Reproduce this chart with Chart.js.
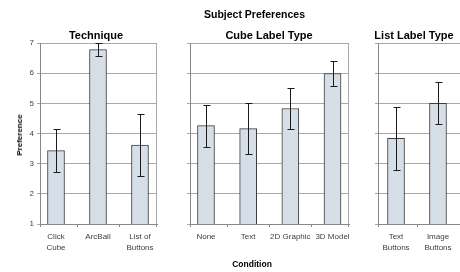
<!DOCTYPE html>
<html><head><meta charset="utf-8">
<script src="https://cdn.jsdelivr.net/npm/chart.js@4"></script>
<style>
html,body{margin:0;padding:0;background:#fff;}
#wrap{position:relative;width:460px;height:272px;overflow:hidden;font-family:"Liberation Sans",Arial,sans-serif;color:#000;}
#wrap canvas{position:absolute;left:0;top:0;}
.t{position:absolute;transform:translate(-50%,-50%);white-space:nowrap;font-weight:bold;line-height:1;}
</style></head>
<body>
<div id="wrap">
<canvas id="c1" width="463" height="272" style="width:463px;height:272px"></canvas>
<canvas id="c2" width="463" height="272" style="width:463px;height:272px"></canvas>
<canvas id="c3" width="463" height="272" style="width:463px;height:272px"></canvas>
<div class="t" style="left:254.5px;top:14px;font-size:10.5px">Subject Preferences</div>
<div class="t" style="left:96px;top:35px;font-size:11px">Technique</div>
<div class="t" style="left:269px;top:35px;font-size:11px">Cube Label Type</div>
<div class="t" style="left:414px;top:35px;font-size:11px">List Label Type</div>
<div class="t" style="left:20px;top:135px;font-size:8px;transform:translate(-50%,-50%) rotate(-90deg)">Preference</div>
<div class="t" style="left:252px;top:264px;font-size:8.5px">Condition</div>
</div>
<script>
const techCats = [['Click','Cube'], 'ArcBall', ['List of','Buttons']];
const techMeans = [3.43, 6.78, 3.62];
const techErr = [0.72, 0.22, 1.02];

const cubeCats = ['None', 'Text', '2D Graphic', '3D Model'];
const cubeMeans = [4.26, 4.16, 4.83, 5.99];
const cubeErr = [0.70, 0.85, 0.67, 0.42];

const listCats = [['Text','Buttons'], ['Image','Buttons']];
const listMeans = [3.84, 5.00];
const listErr = [1.05, 0.70];

const yTicks = [1, 2, 3, 4, 5, 6, 7];

const FONT = '"Liberation Sans", Arial, sans-serif';

const errorBars = {
  id: 'errorBars',
  afterDatasetsDraw(chart) {
    const ctx = chart.ctx;
    const ys = chart.scales.y;
    const errs = chart.options.plugins.errorBars.errors;
    const meta = chart.getDatasetMeta(0);
    const vals = chart.data.datasets[0].data.map(d => d.y);
    ctx.save();
    ctx.strokeStyle = '#1a1a1a';
    ctx.lineWidth = 1;
    meta.data.forEach((bar, i) => {
      const x = Math.round(bar.x) + 0.5;
      const top = Math.round(ys.getPixelForValue(vals[i] + errs[i])) + 0.5;
      const bot = Math.round(ys.getPixelForValue(vals[i] - errs[i])) + 0.5;
      ctx.beginPath();
      ctx.moveTo(x, top); ctx.lineTo(x, bot);
      ctx.moveTo(x - 3, top); ctx.lineTo(x + 4, top);
      ctx.moveTo(x - 3, bot); ctx.lineTo(x + 4, bot);
      ctx.stroke();
    });
    ctx.restore();
  }
};

const frame = {
  id: 'frame',
  beforeDatasetsDraw(chart) {
    const a = chart.chartArea;
    const xs = chart.scales.x;
    const n = chart.data.datasets[0].data.length;
    const ctx = chart.ctx;
    ctx.save();
    ctx.lineWidth = 1;
    ctx.strokeStyle = '#a8a8a8';
    ctx.beginPath();
    const rx = Math.round(a.right) - 0.5;
    ctx.moveTo(rx, a.top); ctx.lineTo(rx, a.bottom);
    ctx.stroke();
    // category boundary tick marks below the axis
    ctx.strokeStyle = '#888';
    ctx.beginPath();
    const bx = [a.left + 0.5];
    for (let i = 0; i < n - 1; i++) bx.push(Math.round(xs.getPixelForValue(i + 0.5)) + 0.5);
    bx.push(rx);
    const yb = Math.round(a.bottom);
    bx.forEach(x => { ctx.moveTo(x, yb); ctx.lineTo(x, yb + 3); });
    ctx.stroke();
    ctx.restore();
  }
};

function makeChart(id, cats, means, errs, left, right, xmin, xmax, showY) {
  new Chart(document.getElementById(id), {
    type: 'bar',
    data: {
      datasets: [{
        data: means.map((v, i) => ({ x: i, y: v })),
        backgroundColor: '#d6dee8',
        borderColor: '#3c3c3c',
        borderWidth: 1,
        barThickness: 17
      }]
    },
    options: {
      responsive: false,
      animation: false,
      events: [],
      layout: { padding: { left: left, right: right, top: 43, bottom: 0 } },
      plugins: {
        legend: { display: false },
        tooltip: { enabled: false },
        title: { display: false },
        errorBars: { errors: errs }
      },
      scales: {
        x: {
          type: 'linear',
          min: xmin, max: xmax,
          offset: false,
          afterBuildTicks(s) { s.ticks = cats.map((c, i) => ({ value: i })); },
          grid: { display: false, drawTicks: false, tickLength: 0 },
          border: { display: true, color: '#888' },
          ticks: {
            color: '#404040', font: { family: FONT, size: 8, lineHeight: 1.375 },
            padding: 7, maxRotation: 0, autoSkip: false,
            callback: (v) => cats[v]
          },
          afterFit(s) { s.height = 48; }
        },
        y: {
          min: 1, max: 7,
          afterBuildTicks(s) { s.ticks = yTicks.map(v => ({ value: v })); },
          grid: { color: '#a8a8a8', tickLength: 3, drawTicks: true },
          border: { display: true, color: '#888' },
          ticks: { display: showY, color: '#404040', font: { family: FONT, size: 8 }, padding: 3 },
          afterFit(s) { s.width = showY ? 40 : 0; }
        }
      }
    },
    plugins: [frame, errorBars]
  });
}

makeChart('c1', techCats, techMeans, techErr, 0, 463 - 157, -0.381, 2.405, true);
makeChart('c2', cubeCats, cubeMeans, cubeErr, 190, 463 - 349, -0.379, 3.391, false);
makeChart('c3', listCats, listMeans, listErr, 378, 2, -0.429, 1.548, false);
</script>
</body></html>
